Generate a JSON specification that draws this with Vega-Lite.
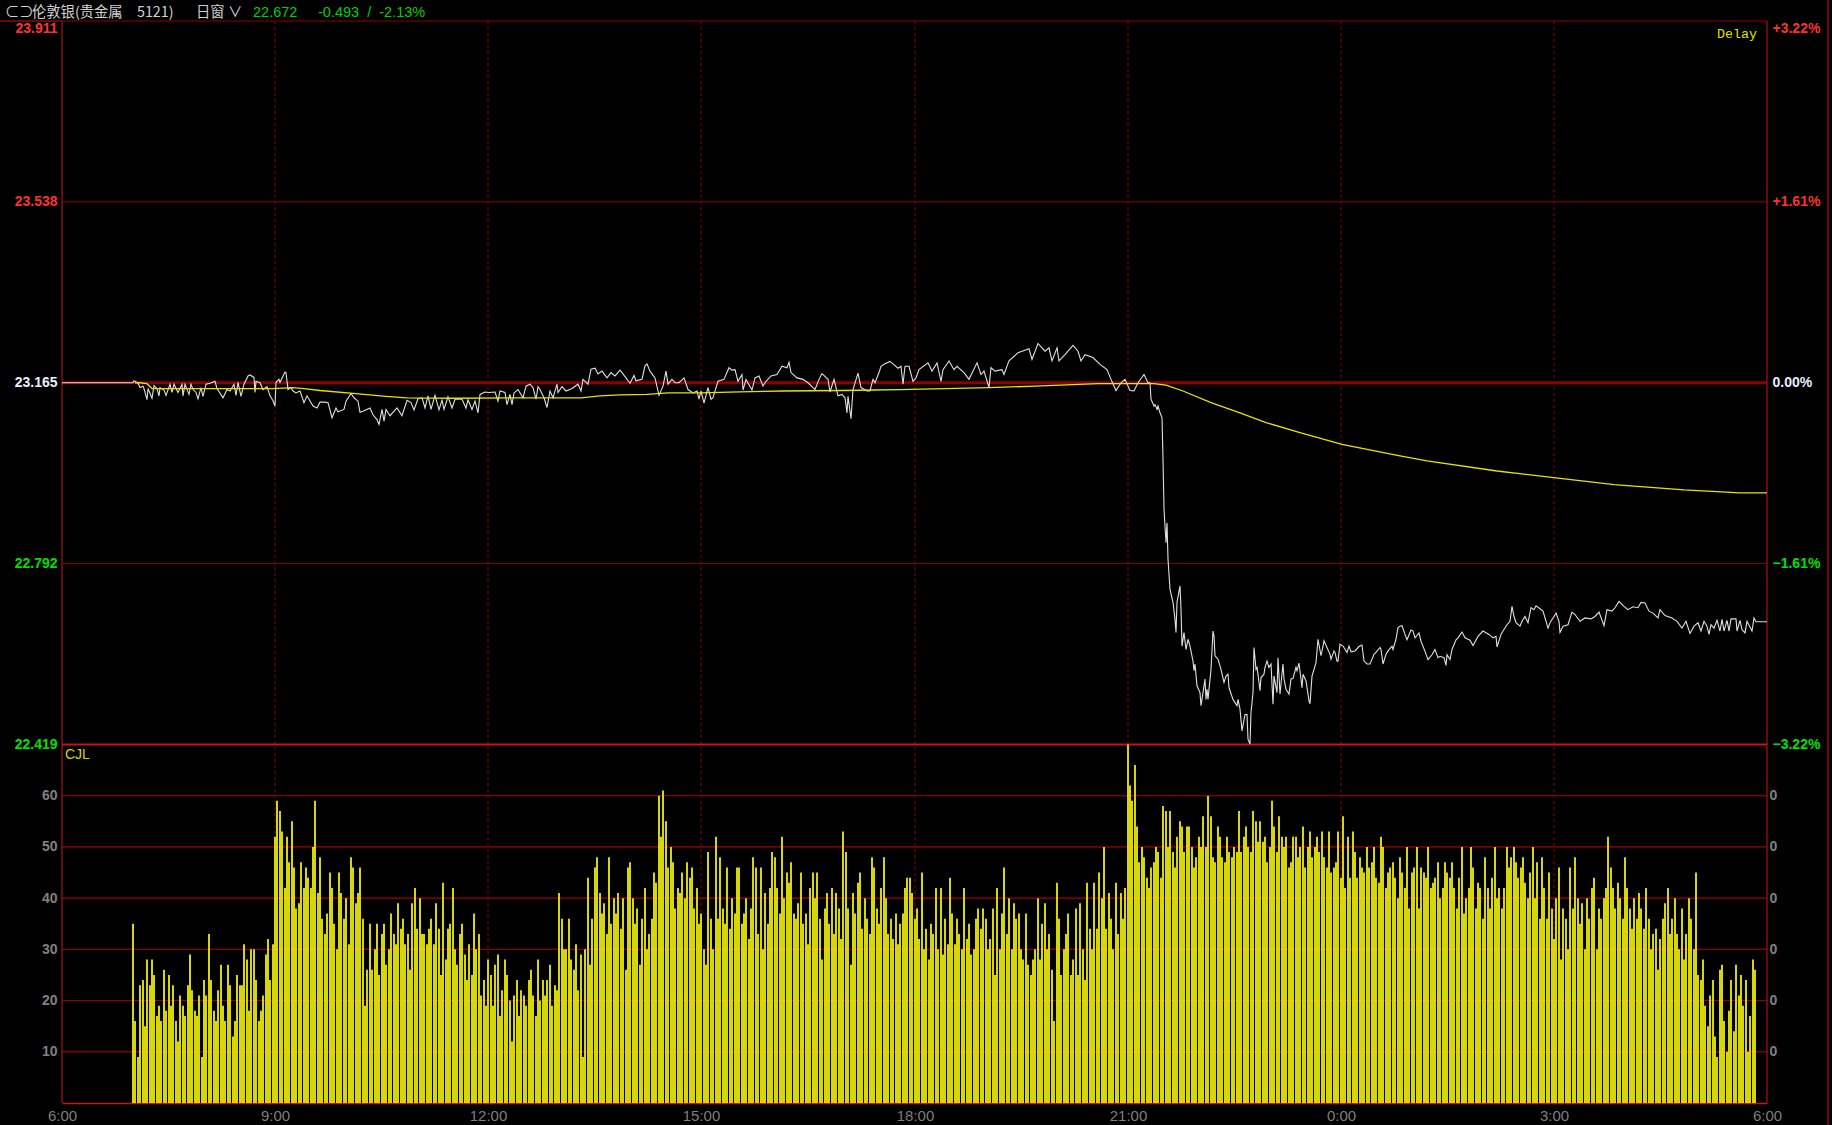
{"$schema":"https://vega.github.io/schema/vega-lite/v6.json","width":1705,"height":1082,"autosize":{"type":"none"},"padding":{"left":62,"top":21,"right":65,"bottom":22},"background":"#000000","config":{"view":{"stroke":null},"axis":{"grid":false,"ticks":false,"domain":false,"title":null}},"resolve":{"scale":{"y":"independent"},"axis":{"y":"independent"}},"layer":[
{"data":{"values":[{"m":180},{"m":360},{"m":540},{"m":720},{"m":900},{"m":1080},{"m":1260}]},"mark":{"type":"rule","stroke":"#8c0000","strokeDash":[3,3],"strokeWidth":1},"encoding":{"x":{"field":"m","type":"quantitative","scale":{"domain":[0,1440],"range":[0,1705],"round":true,"padding":0},"axis":{"values":[0,180,360,540,720,900,1080,1260,1440],"labelExpr":"floor((6+datum.value/60)%24)+':00'","labelFont":"Liberation Sans","labelFontSize":15,"labelColor":"#7f7f7f","labelPadding":5,"domain":true,"domainColor":"#c81414","domainWidth":1.5,"orient":"bottom","labelFlush":false,"labelOverlap":false}}}},
{"data":{"values":[{"v":10},{"v":20},{"v":30},{"v":40},{"v":50},{"v":60}]},"mark":{"type":"rule","stroke":"#8c0000","strokeWidth":1},"encoding":{"y":{"field":"v","type":"quantitative","scale":{"domain":[0,70],"range":[1082,723.5]},"axis":{"orient":"left","values":[10,20,30,40,50,60],"labelFont":"Liberation Sans","labelFontWeight":"bold","labelFontSize":14,"labelColor":"#808080","labelPadding":5}}}},
{"data":{"values":[{"v":10},{"v":20},{"v":30},{"v":40},{"v":50},{"v":60}]},"mark":{"type":"rule","stroke":"#8c0000","strokeWidth":1},"encoding":{"y":{"field":"v","type":"quantitative","scale":{"domain":[0,70],"range":[1082,723.5]},"axis":{"orient":"right","values":[10,20,30,40,50,60],"labelExpr":"'0'","labelFont":"Liberation Sans","labelFontWeight":"bold","labelFontSize":14,"labelColor":"#808080","labelPadding":2}}}},
{"data":{"values":[{"p":23.911},{"p":23.538},{"p":23.165},{"p":22.792},{"p":22.419}]},"mark":{"type":"rule"},"encoding":{"y":{"field":"p","type":"quantitative","scale":{"domain":[22.419,23.911],"range":[723.5,0]},"axis":{"orient":"left","values":[23.911,23.538,23.165,22.792,22.419],"format":".3f","labelFont":"Liberation Sans","labelFontWeight":"bold","labelFontSize":14,"labelPadding":5,"labelColor":{"expr":"datum.value>23.2?'#ff3232':datum.value<23.1?'#00e000':'#e6f0ff'"},"labelOffset":{"expr":"datum.value>23.9?7:0"},"labelFlush":false,"labelOverlap":false}},"stroke":{"condition":{"test":"datum.p==22.419","value":"#c81414"},"value":"#900000"},"strokeWidth":{"condition":[{"test":"datum.p==23.165","value":3},{"test":"datum.p==22.419","value":2}],"value":1}}},
{"data":{"values":[{"q":3.22},{"q":1.61},{"q":0},{"q":-1.61},{"q":-3.22}]},"mark":{"type":"rule","strokeOpacity":0},"encoding":{"y":{"field":"q","type":"quantitative","scale":{"domain":[-3.22,3.22],"range":[723.5,0]},"axis":{"orient":"right","values":[3.22,1.61,0,-1.61,-3.22],"labelExpr":"(datum.value>0?'+':'')+format(datum.value,'.2f')+'%'","labelFont":"Liberation Sans","labelFontWeight":"bold","labelFontSize":14,"labelPadding":5,"labelColor":{"expr":"datum.value>0.1?'#ff3232':datum.value<-0.1?'#00e000':'#e6f0ff'"},"labelOffset":{"expr":"datum.value>3?7:0"},"labelFlush":false,"labelOverlap":false}}}},
{"data":{"values":[{"m":0},{"m":1440}]},"mark":{"type":"rule","stroke":"#c81414","strokeWidth":1},"encoding":{"x":{"field":"m","type":"quantitative","scale":{"domain":[0,1440],"range":[0,1705],"round":true,"padding":0}}}},
{"data":{"values":[{"m":1491.6,"p":23.96,"p2":21.6},{"m":-52.4,"p":23.911,"p2":23.911,"m2":0}]},"mark":{"type":"rule","stroke":"#c81414","strokeWidth":1,"clip":false},"encoding":{"x":{"field":"m","type":"quantitative","scale":{"domain":[0,1440],"range":[0,1705],"round":true,"padding":0}},"x2":{"field":"m2"},"y":{"field":"p","type":"quantitative","scale":{"domain":[22.419,23.911],"range":[723.5,0]},"axis":null},"y2":{"field":"p2"}}},
{"data":{"values":[
{"m":60,"v":35},{"m":62,"v":16},{"m":64,"v":9},{"m":66,"v":23},{"m":68,"v":24},{"m":70,"v":15},{"m":72,"v":28},{"m":74,"v":23},{"m":76,"v":28},{"m":78,"v":25},{"m":80,"v":17},{"m":82,"v":19},{"m":84,"v":16},{"m":86,"v":26},{"m":88,"v":18},{"m":90,"v":25},{"m":92,"v":19},{"m":94,"v":23},{"m":96,"v":16},{"m":98,"v":12},{"m":100,"v":21},{"m":102,"v":19},{"m":104,"v":17},{"m":106,"v":23},{"m":108,"v":29},{"m":110,"v":22},{"m":112,"v":18},{"m":114,"v":17},{"m":116,"v":21},{"m":118,"v":9},{"m":120,"v":24},{"m":122,"v":21},{"m":124,"v":33},{"m":126,"v":24},{"m":128,"v":18},{"m":130,"v":16},{"m":132,"v":22},{"m":134,"v":27},{"m":136,"v":19},{"m":138,"v":16},{"m":140,"v":27},{"m":142,"v":23},{"m":144,"v":13},{"m":146,"v":16},{"m":148,"v":25},{"m":150,"v":23},{"m":152,"v":23},{"m":154,"v":31},{"m":156,"v":28},{"m":158,"v":18},{"m":160,"v":30},{"m":162,"v":30},{"m":164,"v":24},{"m":166,"v":16},{"m":168,"v":18},{"m":170,"v":21},{"m":172,"v":29},{"m":174,"v":32},{"m":176,"v":24},{"m":178,"v":31},
{"m":180,"v":52},{"m":182,"v":59},{"m":184,"v":57},{"m":186,"v":53},{"m":188,"v":42},{"m":190,"v":52},{"m":192,"v":47},{"m":194,"v":55},{"m":196,"v":46},{"m":198,"v":38},{"m":200,"v":39},{"m":202,"v":47},{"m":204,"v":42},{"m":206,"v":46},{"m":208,"v":44},{"m":210,"v":42},{"m":212,"v":50},{"m":214,"v":59},{"m":216,"v":41},{"m":218,"v":48},{"m":220,"v":36},{"m":222,"v":33},{"m":224,"v":37},{"m":226,"v":45},{"m":228,"v":42},{"m":230,"v":35},{"m":232,"v":30},{"m":234,"v":45},{"m":236,"v":41},{"m":238,"v":36},{"m":240,"v":40},{"m":242,"v":31},{"m":244,"v":48},{"m":246,"v":46},{"m":248,"v":39},{"m":250,"v":41},{"m":252,"v":46},{"m":254,"v":36},
{"m":256,"v":19},{"m":258,"v":26},{"m":260,"v":35},{"m":262,"v":26},{"m":264,"v":30},{"m":266,"v":35},{"m":268,"v":25},{"m":270,"v":33},{"m":272,"v":35},{"m":274,"v":27},{"m":276,"v":30},{"m":278,"v":37},{"m":280,"v":33},{"m":282,"v":31},{"m":284,"v":39},{"m":286,"v":34},{"m":288,"v":36},{"m":290,"v":31},{"m":292,"v":33},{"m":294,"v":26},{"m":296,"v":39},{"m":298,"v":42},{"m":300,"v":34},{"m":302,"v":40},{"m":304,"v":33},{"m":306,"v":33},{"m":308,"v":31},{"m":310,"v":34},{"m":312,"v":36},{"m":314,"v":31},{"m":316,"v":39},{"m":318,"v":34},{"m":320,"v":25},{"m":322,"v":43},{"m":324,"v":28},{"m":326,"v":34},{"m":328,"v":35},{"m":330,"v":42},{"m":332,"v":30},{"m":334,"v":27},{"m":336,"v":33},{"m":338,"v":35},{"m":340,"v":29},{"m":342,"v":24},{"m":344,"v":31},{"m":346,"v":25},{"m":348,"v":37},{"m":350,"v":30},{"m":352,"v":33},{"m":354,"v":21},{"m":356,"v":24},{"m":358,"v":19},
{"m":360,"v":28},{"m":362,"v":25},{"m":364,"v":19},{"m":366,"v":27},{"m":368,"v":29},{"m":370,"v":17},{"m":372,"v":22},{"m":374,"v":28},{"m":376,"v":25},{"m":378,"v":20},{"m":380,"v":12},{"m":382,"v":21},{"m":384,"v":24},{"m":386,"v":17},{"m":388,"v":22},{"m":390,"v":21},{"m":392,"v":19},{"m":394,"v":24},{"m":396,"v":26},{"m":398,"v":21},{"m":400,"v":17},{"m":402,"v":28},{"m":404,"v":20},{"m":406,"v":24},{"m":408,"v":21},{"m":410,"v":24},{"m":412,"v":27},{"m":414,"v":19},{"m":416,"v":23},{"m":418,"v":22},
{"m":420,"v":41},{"m":422,"v":36},{"m":424,"v":30},{"m":426,"v":30},{"m":428,"v":36},{"m":430,"v":28},{"m":432,"v":26},{"m":434,"v":31},{"m":436,"v":22},{"m":438,"v":29},{"m":440,"v":9},{"m":442,"v":30},{"m":444,"v":44},{"m":446,"v":27},{"m":448,"v":36},{"m":450,"v":46},{"m":452,"v":48},{"m":454,"v":41},{"m":456,"v":37},{"m":458,"v":39},{"m":460,"v":33},{"m":462,"v":48},{"m":464,"v":35},{"m":466,"v":40},{"m":468,"v":37},{"m":470,"v":41},{"m":472,"v":34},{"m":474,"v":40},{"m":476,"v":26},{"m":478,"v":46},{"m":480,"v":47},{"m":482,"v":40},{"m":484,"v":35},{"m":486,"v":38},{"m":488,"v":27},{"m":490,"v":36},{"m":492,"v":42},{"m":494,"v":30},{"m":496,"v":33},{"m":498,"v":36},{"m":500,"v":45},{"m":502,"v":43},{"m":504,"v":60},{"m":506,"v":52},{"m":508,"v":61},{"m":510,"v":55},{"m":512,"v":46},{"m":514,"v":50},{"m":516,"v":47},{"m":518,"v":38},{"m":520,"v":42},{"m":522,"v":41},{"m":524,"v":45},{"m":526,"v":40},{"m":528,"v":47},{"m":530,"v":44},{"m":532,"v":46},{"m":534,"v":38},{"m":536,"v":42},{"m":538,"v":35},{"m":540,"v":37},{"m":542,"v":30},{"m":544,"v":27},{"m":546,"v":49},{"m":548,"v":36},{"m":550,"v":30},{"m":552,"v":52},{"m":554,"v":36},{"m":556,"v":48},{"m":558,"v":38},{"m":560,"v":35},{"m":562,"v":46},{"m":564,"v":34},{"m":566,"v":40},{"m":568,"v":37},{"m":570,"v":46},{"m":572,"v":46},{"m":574,"v":35},{"m":576,"v":37},{"m":578,"v":40},{"m":580,"v":32},{"m":582,"v":38},{"m":584,"v":48},{"m":586,"v":46},{"m":588,"v":33},{"m":590,"v":46},{"m":592,"v":30},{"m":594,"v":41},{"m":596,"v":35},{"m":598,"v":42},{"m":600,"v":49},{"m":602,"v":48},{"m":604,"v":42},{"m":606,"v":37},{"m":608,"v":52},{"m":610,"v":40},{"m":612,"v":45},{"m":614,"v":43},{"m":616,"v":47},{"m":618,"v":37},{"m":620,"v":36},{"m":622,"v":39},{"m":624,"v":45},{"m":626,"v":35},{"m":628,"v":37},{"m":630,"v":31},{"m":632,"v":42},{"m":634,"v":45},{"m":636,"v":40},{"m":638,"v":45},{"m":640,"v":36},{"m":642,"v":28},{"m":644,"v":38},{"m":646,"v":41},{"m":648,"v":35},{"m":650,"v":42},{"m":652,"v":33},{"m":654,"v":41},{"m":656,"v":38},{"m":658,"v":32},{"m":660,"v":53},{"m":662,"v":49},{"m":664,"v":38},{"m":666,"v":27},{"m":668,"v":41},{"m":670,"v":37},{"m":672,"v":43},{"m":674,"v":45},{"m":676,"v":34},{"m":678,"v":40},{"m":680,"v":36},{"m":682,"v":33},{"m":684,"v":48},{"m":686,"v":46},{"m":688,"v":38},{"m":690,"v":35},{"m":692,"v":42},{"m":694,"v":48},{"m":696,"v":40},{"m":698,"v":33},{"m":700,"v":36},{"m":702,"v":32},{"m":704,"v":37},{"m":706,"v":31},{"m":708,"v":35},{"m":710,"v":37},{"m":712,"v":42},{"m":714,"v":44},{"m":716,"v":44},{"m":718,"v":41},
{"m":720,"v":36},{"m":722,"v":38},{"m":724,"v":32},{"m":726,"v":45},{"m":728,"v":30},{"m":730,"v":34},{"m":732,"v":28},{"m":734,"v":35},{"m":736,"v":33},{"m":738,"v":42},{"m":740,"v":30},{"m":742,"v":42},{"m":744,"v":29},{"m":746,"v":36},{"m":748,"v":31},{"m":750,"v":44},{"m":752,"v":37},{"m":754,"v":31},{"m":756,"v":36},{"m":758,"v":33},{"m":760,"v":30},{"m":762,"v":42},{"m":764,"v":32},{"m":766,"v":35},{"m":768,"v":29},{"m":770,"v":30},{"m":772,"v":36},{"m":774,"v":38},{"m":776,"v":34},{"m":778,"v":38},{"m":780,"v":36},{"m":782,"v":30},{"m":784,"v":32},{"m":786,"v":38},{"m":788,"v":25},{"m":790,"v":42},
{"m":792,"v":30},{"m":794,"v":37},{"m":796,"v":46},{"m":798,"v":33},{"m":800,"v":40},{"m":802,"v":30},{"m":804,"v":39},{"m":806,"v":36},{"m":808,"v":37},{"m":810,"v":30},{"m":812,"v":28},{"m":814,"v":37},{"m":816,"v":27},{"m":818,"v":25},{"m":820,"v":28},{"m":822,"v":30},{"m":824,"v":40},{"m":826,"v":28},{"m":828,"v":35},{"m":830,"v":39},{"m":832,"v":30},{"m":834,"v":33},{"m":836,"v":26},{"m":838,"v":16},{"m":840,"v":43},{"m":842,"v":36},{"m":844,"v":25},{"m":846,"v":30},{"m":848,"v":33},{"m":850,"v":37},{"m":852,"v":25},{"m":854,"v":28},{"m":856,"v":38},{"m":858,"v":25},{"m":860,"v":39},{"m":862,"v":30},{"m":864,"v":24},{"m":866,"v":43},{"m":868,"v":34},{"m":870,"v":30},{"m":872,"v":43},{"m":874,"v":34},{"m":876,"v":45},{"m":878,"v":40},{"m":880,"v":50},{"m":882,"v":34},{"m":884,"v":41},{"m":886,"v":36},{"m":888,"v":30},{"m":890,"v":43},{"m":892,"v":33},{"m":894,"v":41},{"m":896,"v":36},{"m":898,"v":42},
{"m":900,"v":70},{"m":902,"v":62},{"m":904,"v":59},{"m":906,"v":66},{"m":908,"v":54},{"m":910,"v":47},{"m":912,"v":50},{"m":914,"v":48},{"m":916,"v":44},{"m":918,"v":42},{"m":920,"v":46},{"m":922,"v":47},{"m":924,"v":50},{"m":926,"v":49},{"m":928,"v":44},{"m":930,"v":58},{"m":932,"v":57},{"m":934,"v":50},{"m":936,"v":57},{"m":938,"v":49},{"m":940,"v":46},{"m":942,"v":52},{"m":944,"v":55},{"m":946,"v":54},{"m":948,"v":49},{"m":950,"v":54},{"m":952,"v":54},{"m":954,"v":50},{"m":956,"v":46},{"m":958,"v":48},{"m":960,"v":52},{"m":962,"v":50},{"m":964,"v":56},{"m":966,"v":50},{"m":968,"v":60},{"m":970,"v":56},{"m":972,"v":48},{"m":974,"v":47},{"m":976,"v":54},{"m":978,"v":52},{"m":980,"v":48},{"m":982,"v":47},{"m":984,"v":52},{"m":986,"v":49},{"m":988,"v":48},{"m":990,"v":50},{"m":992,"v":49},{"m":994,"v":57},{"m":996,"v":49},{"m":998,"v":52},{"m":1000,"v":54},{"m":1002,"v":50},{"m":1004,"v":49},{"m":1006,"v":57},{"m":1008,"v":55},{"m":1010,"v":51},{"m":1012,"v":55},{"m":1014,"v":51},{"m":1016,"v":52},{"m":1018,"v":47},{"m":1020,"v":50},{"m":1022,"v":59},{"m":1024,"v":54},{"m":1026,"v":49},{"m":1028,"v":56},{"m":1030,"v":52},{"m":1032,"v":50},{"m":1034,"v":52},{"m":1036,"v":46},{"m":1038,"v":47},{"m":1040,"v":52},{"m":1042,"v":52},{"m":1044,"v":48},{"m":1046,"v":50},{"m":1048,"v":54},{"m":1050,"v":46},{"m":1052,"v":50},{"m":1054,"v":53},{"m":1056,"v":48},{"m":1058,"v":50},{"m":1060,"v":52},{"m":1062,"v":49},{"m":1064,"v":53},{"m":1066,"v":48},{"m":1068,"v":46},{"m":1070,"v":53},{"m":1072,"v":45},{"m":1074,"v":46},{"m":1076,"v":47},{"m":1078,"v":53},
{"m":1080,"v":44},{"m":1082,"v":56},{"m":1084,"v":42},{"m":1086,"v":52},{"m":1088,"v":44},{"m":1090,"v":53},{"m":1092,"v":49},{"m":1094,"v":44},{"m":1096,"v":48},{"m":1098,"v":46},{"m":1100,"v":45},{"m":1102,"v":50},{"m":1104,"v":46},{"m":1106,"v":47},{"m":1108,"v":50},{"m":1110,"v":44},{"m":1112,"v":43},{"m":1114,"v":52},{"m":1116,"v":50},{"m":1118,"v":42},{"m":1120,"v":45},{"m":1122,"v":46},{"m":1124,"v":47},{"m":1126,"v":44},{"m":1128,"v":40},{"m":1130,"v":48},{"m":1132,"v":45},{"m":1134,"v":42},{"m":1136,"v":50},{"m":1138,"v":38},{"m":1140,"v":45},{"m":1142,"v":46},{"m":1144,"v":50},{"m":1146,"v":38},{"m":1148,"v":46},{"m":1150,"v":45},{"m":1152,"v":44},{"m":1154,"v":50},{"m":1156,"v":42},{"m":1158,"v":43},{"m":1160,"v":44},{"m":1162,"v":47},{"m":1164,"v":40},{"m":1166,"v":42},{"m":1168,"v":47},{"m":1170,"v":45},{"m":1172,"v":44},{"m":1174,"v":47},{"m":1176,"v":42},{"m":1178,"v":38},{"m":1180,"v":44},{"m":1182,"v":50},{"m":1184,"v":37},{"m":1186,"v":40},{"m":1188,"v":42},{"m":1190,"v":50},{"m":1192,"v":46},{"m":1194,"v":38},{"m":1196,"v":43},{"m":1198,"v":42},{"m":1200,"v":36},{"m":1202,"v":48},{"m":1204,"v":42},{"m":1206,"v":38},{"m":1208,"v":44},{"m":1210,"v":50},{"m":1212,"v":40},{"m":1214,"v":42},{"m":1216,"v":38},{"m":1218,"v":42},{"m":1220,"v":50},{"m":1222,"v":46},{"m":1224,"v":48},{"m":1226,"v":50},{"m":1228,"v":47},
{"m":1230,"v":44},{"m":1232,"v":46},{"m":1234,"v":48},{"m":1236,"v":43},{"m":1238,"v":40},{"m":1240,"v":45},{"m":1242,"v":50},{"m":1244,"v":40},{"m":1246,"v":47},{"m":1248,"v":36},{"m":1250,"v":48},{"m":1252,"v":42},{"m":1254,"v":36},{"m":1256,"v":45},{"m":1258,"v":38},{"m":1260,"v":32},{"m":1262,"v":40},{"m":1264,"v":46},{"m":1266,"v":28},{"m":1268,"v":38},{"m":1270,"v":36},{"m":1272,"v":30},{"m":1274,"v":46},{"m":1276,"v":38},{"m":1278,"v":48},{"m":1280,"v":40},{"m":1282,"v":35},{"m":1284,"v":39},{"m":1286,"v":30},{"m":1288,"v":40},{"m":1290,"v":36},{"m":1292,"v":42},{"m":1294,"v":44},{"m":1296,"v":30},{"m":1298,"v":38},{"m":1300,"v":36},{"m":1302,"v":40},{"m":1304,"v":42},{"m":1306,"v":52},{"m":1308,"v":46},{"m":1310,"v":42},{"m":1312,"v":38},{"m":1314,"v":43},{"m":1316,"v":40},{"m":1318,"v":36},{"m":1320,"v":48},{"m":1322,"v":42},{"m":1324,"v":38},{"m":1326,"v":34},{"m":1328,"v":40},{"m":1330,"v":36},{"m":1332,"v":41},{"m":1334,"v":38},{"m":1336,"v":34},{"m":1338,"v":42},{"m":1340,"v":36},{"m":1342,"v":30},{"m":1344,"v":33},{"m":1346,"v":34},{"m":1348,"v":26},{"m":1350,"v":32},{"m":1352,"v":36},{"m":1354,"v":39},{"m":1356,"v":42},{"m":1358,"v":33},{"m":1360,"v":36},{"m":1362,"v":40},{"m":1364,"v":33},{"m":1366,"v":30},{"m":1368,"v":38},{"m":1370,"v":28},{"m":1372,"v":33},{"m":1374,"v":40},{"m":1376,"v":36},{"m":1378,"v":30},{"m":1380,"v":45},{"m":1382,"v":25},{"m":1384,"v":24},{"m":1386,"v":28},{"m":1388,"v":19},{"m":1390,"v":15},{"m":1392,"v":21},{"m":1394,"v":24},{"m":1396,"v":13},{"m":1398,"v":9},{"m":1400,"v":26},{"m":1402,"v":27},{"m":1404,"v":16},{"m":1406,"v":10},{"m":1408,"v":18},{"m":1410,"v":24},{"m":1412,"v":14},{"m":1414,"v":27},{"m":1416,"v":21},{"m":1418,"v":25},{"m":1420,"v":19},{"m":1422,"v":24},{"m":1424,"v":10},{"m":1426,"v":17},{"m":1428,"v":28},{"m":1430,"v":26}
]},"mark":{"type":"bar","size":2,"color":"#e6e60a","opacity":0.93,"orient":"vertical"},"encoding":{"x":{"field":"m","type":"quantitative","scale":{"domain":[0,1440],"range":[0,1705],"round":true,"padding":0}},"y":{"field":"v","type":"quantitative","stack":null,"scale":{"domain":[0,70],"range":[1082,723.5]},"axis":null}}},
{"data":{"values":[
{"m":0,"p":23.165},{"m":60,"p":23.165},{"m":61,"p":23.169},{"m":62,"p":23.168},{"m":64,"p":23.164},{"m":66,"p":23.155},{"m":68,"p":23.158},{"m":69,"p":23.153},{"m":72,"p":23.13},{"m":73,"p":23.153},{"m":76,"p":23.133},{"m":78,"p":23.159},{"m":80,"p":23.153},{"m":82,"p":23.138},{"m":83,"p":23.155},{"m":86,"p":23.15},{"m":88,"p":23.139},{"m":91,"p":23.162},{"m":93,"p":23.145},{"m":95,"p":23.162},{"m":98,"p":23.145},{"m":101,"p":23.162},{"m":102,"p":23.138},{"m":104,"p":23.162},{"m":107,"p":23.141},{"m":109,"p":23.162},{"m":111,"p":23.151},{"m":113,"p":23.145},{"m":115,"p":23.132},{"m":117,"p":23.155},{"m":119,"p":23.137},{"m":122,"p":23.162},{"m":125,"p":23.164},{"m":129,"p":23.168},{"m":131,"p":23.153},{"m":136,"p":23.134},{"m":139,"p":23.151},{"m":142,"p":23.148},{"m":145,"p":23.162},{"m":147,"p":23.139},{"m":149,"p":23.166},{"m":151,"p":23.137},{"m":154,"p":23.162},{"m":157,"p":23.179},{"m":159,"p":23.181},{"m":162,"p":23.176},{"m":163,"p":23.145},{"m":164,"p":23.168},{"m":167,"p":23.165},{"m":170,"p":23.151},{"m":173,"p":23.157},{"m":176,"p":23.138},{"m":178,"p":23.128},{"m":180,"p":23.117},{"m":181,"p":23.166},{"m":183,"p":23.172},{"m":184,"p":23.166},{"m":188,"p":23.187},{"m":189,"p":23.186},{"m":191,"p":23.151},{"m":193,"p":23.155},{"m":195,"p":23.148},{"m":198,"p":23.144},{"m":201,"p":23.148},{"m":204,"p":23.124},{"m":207,"p":23.138},{"m":209,"p":23.131},{"m":212,"p":23.117},{"m":215,"p":23.113},{"m":218,"p":23.125},{"m":222,"p":23.125},{"m":225,"p":23.124},{"m":228,"p":23.093},{"m":231,"p":23.113},{"m":233,"p":23.105},{"m":238,"p":23.11},{"m":240,"p":23.127},{"m":244,"p":23.143},{"m":247,"p":23.134},{"m":250,"p":23.127},{"m":252,"p":23.104},{"m":254,"p":23.106},{"m":260,"p":23.113},{"m":263,"p":23.099},{"m":266,"p":23.089},{"m":268,"p":23.079},{"m":270,"p":23.11},{"m":272,"p":23.086},{"m":274,"p":23.11},{"m":277,"p":23.097},{"m":283,"p":23.113},{"m":287,"p":23.097},{"m":291,"p":23.129},{"m":295,"p":23.124},{"m":297,"p":23.109},{"m":301,"p":23.132},{"m":304,"p":23.134},{"m":307,"p":23.113},{"m":309,"p":23.138},{"m":312,"p":23.11},{"m":315,"p":23.139},{"m":318,"p":23.109},{"m":321,"p":23.129},{"m":323,"p":23.11},{"m":326,"p":23.136},{"m":329,"p":23.113},{"m":332,"p":23.131},{"m":338,"p":23.131},{"m":341,"p":23.113},{"m":343,"p":23.13},{"m":346,"p":23.11},{"m":349,"p":23.127},{"m":351,"p":23.103},{"m":353,"p":23.141},{"m":357,"p":23.146},{"m":361,"p":23.145},{"m":366,"p":23.146},{"m":368,"p":23.127},
{"m":370,"p":23.148},{"m":374,"p":23.145},{"m":376,"p":23.12},{"m":378,"p":23.141},{"m":380,"p":23.12},{"m":382,"p":23.144},{"m":385,"p":23.151},{"m":389,"p":23.134},{"m":392,"p":23.158},{"m":395,"p":23.162},{"m":398,"p":23.155},{"m":400,"p":23.131},{"m":402,"p":23.157},{"m":404,"p":23.151},{"m":407,"p":23.134},{"m":410,"p":23.114},{"m":412,"p":23.148},{"m":415,"p":23.134},{"m":418,"p":23.162},{"m":419,"p":23.145},{"m":422,"p":23.157},{"m":426,"p":23.148},{"m":431,"p":23.153},{"m":436,"p":23.162},{"m":438,"p":23.148},{"m":440,"p":23.172},{"m":444,"p":23.162},{"m":447,"p":23.193},{"m":450,"p":23.195},{"m":453,"p":23.183},{"m":456,"p":23.189},{"m":460,"p":23.175},{"m":464,"p":23.186},{"m":467,"p":23.179},{"m":471,"p":23.191},{"m":476,"p":23.175},{"m":480,"p":23.164},{"m":483,"p":23.18},{"m":485,"p":23.169},{"m":490,"p":23.172},{"m":492,"p":23.2},{"m":494,"p":23.204},{"m":497,"p":23.189},{"m":501,"p":23.175},{"m":504,"p":23.139},{"m":508,"p":23.158},{"m":510,"p":23.189},{"m":512,"p":23.162},{"m":515,"p":23.172},{"m":518,"p":23.165},{"m":521,"p":23.165},{"m":525,"p":23.175},{"m":529,"p":23.151},{"m":533,"p":23.144},{"m":536,"p":23.148},{"m":538,"p":23.131},{"m":540,"p":23.148},{"m":542,"p":23.123},{"m":546,"p":23.155},{"m":548,"p":23.131},{"m":550,"p":23.134},{"m":554,"p":23.168},{"m":559,"p":23.172},{"m":563,"p":23.196},{"m":566,"p":23.191},{"m":568,"p":23.192},{"m":571,"p":23.168},{"m":574,"p":23.182},{"m":575,"p":23.15},{"m":578,"p":23.172},{"m":583,"p":23.15},{"m":585,"p":23.175},{"m":589,"p":23.179},{"m":592,"p":23.158},{"m":595,"p":23.168},{"m":599,"p":23.179},{"m":604,"p":23.182},{"m":608,"p":23.199},{"m":612,"p":23.196},{"m":614,"p":23.207},{"m":616,"p":23.186},{"m":621,"p":23.175},{"m":626,"p":23.172},{"m":630,"p":23.165},{"m":636,"p":23.151},{"m":639,"p":23.172},{"m":642,"p":23.184},{"m":647,"p":23.172},{"m":649,"p":23.146},{"m":652,"p":23.172},{"m":655,"p":23.138},{"m":659,"p":23.141},{"m":661,"p":23.134},{"m":663,"p":23.103},{"m":664,"p":23.137},{"m":666,"p":23.091},{"m":668,"p":23.151},{"m":672,"p":23.185},{"m":675,"p":23.155},{"m":680,"p":23.148},{"m":682,"p":23.148},{"m":685,"p":23.172},{"m":687,"p":23.165},{"m":690,"p":23.186},{"m":692,"p":23.199},{"m":695,"p":23.204},{"m":699,"p":23.209},{"m":702,"p":23.204},{"m":706,"p":23.195},
{"m":709,"p":23.199},{"m":710,"p":23.162},{"m":712,"p":23.199},{"m":715,"p":23.199},{"m":719,"p":23.168},{"m":721,"p":23.175},{"m":724,"p":23.192},{"m":731,"p":23.206},{"m":735,"p":23.189},{"m":739,"p":23.206},{"m":742,"p":23.168},{"m":744,"p":23.192},{"m":749,"p":23.21},{"m":753,"p":23.192},{"m":756,"p":23.199},{"m":762,"p":23.186},{"m":766,"p":23.172},{"m":773,"p":23.206},{"m":776,"p":23.182},{"m":779,"p":23.189},{"m":783,"p":23.155},{"m":785,"p":23.196},{"m":788,"p":23.189},{"m":794,"p":23.192},{"m":796,"p":23.182},{"m":800,"p":23.21},{"m":807,"p":23.227},{"m":817,"p":23.235},{"m":819,"p":23.213},{"m":824,"p":23.246},{"m":830,"p":23.23},{"m":834,"p":23.237},{"m":836,"p":23.21},{"m":840,"p":23.237},{"m":842,"p":23.21},{"m":847,"p":23.223},{"m":854,"p":23.242},{"m":858,"p":23.23},{"m":861,"p":23.21},{"m":864,"p":23.223},{"m":871,"p":23.217},{"m":877,"p":23.203},{"m":883,"p":23.192},{"m":886,"p":23.172},{"m":890,"p":23.149},{"m":894,"p":23.165},{"m":898,"p":23.172},{"m":902,"p":23.149},{"m":905,"p":23.148},{"m":909,"p":23.165},{"m":914,"p":23.182},{"m":917,"p":23.165},{"m":919,"p":23.165},{"m":920,"p":23.131},{"m":922,"p":23.117},{"m":923,"p":23.12},{"m":925,"p":23.11},{"m":926,"p":23.117},{"m":927,"p":23.103},{"m":929,"p":23.093},{"m":930,"p":23.007},{"m":931,"p":22.904},{"m":932,"p":22.835},{"m":933,"p":22.876},{"m":934,"p":22.801},{"m":936,"p":22.739},{"m":938,"p":22.712},{"m":940,"p":22.677},{"m":941,"p":22.65},{"m":942,"p":22.712},{"m":944,"p":22.746},{"m":945,"p":22.698},{"m":946,"p":22.622},{"m":948,"p":22.65},{"m":949,"p":22.615},{"m":951,"p":22.636},{"m":953,"p":22.622},{"m":955,"p":22.591},{"m":956,"p":22.571},{"m":957,"p":22.585},{"m":959,"p":22.54},{"m":961,"p":22.526},{"m":962,"p":22.499},{"m":964,"p":22.526},{"m":965,"p":22.554},{"m":966,"p":22.512},{"m":967,"p":22.533},{"m":968,"p":22.512},{"m":970,"p":22.574},{"m":972,"p":22.653},{"m":973,"p":22.643},{"m":974,"p":22.602},{"m":976,"p":22.595},{"m":979,"p":22.574},{"m":981,"p":22.547},{"m":983,"p":22.56},{"m":985,"p":22.564},{"m":986,"p":22.536},{"m":989,"p":22.512},{"m":992,"p":22.499},{"m":993,"p":22.512},{"m":995,"p":22.492},{"m":997,"p":22.447},{"m":999,"p":22.481},{"m":1001,"p":22.481},{"m":1002,"p":22.43},{"m":1003,"p":22.42},{"m":1004,"p":22.485},{"m":1006,"p":22.526},{"m":1007,"p":22.619},{"m":1008,"p":22.574},{"m":1009,"p":22.578},{"m":1010,"p":22.564},{"m":1012,"p":22.53},{"m":1013,"p":22.557},{"m":1015,"p":22.564},{"m":1016,"p":22.578},{"m":1018,"p":22.591},{"m":1019,"p":22.578},{"m":1021,"p":22.585},{"m":1023,"p":22.502},{"m":1024,"p":22.56},{"m":1026,"p":22.526},{"m":1027,"p":22.598},{"m":1029,"p":22.523},{"m":1031,"p":22.585},{"m":1032,"p":22.554},{"m":1034,"p":22.533},{"m":1036,"p":22.523},{"m":1038,"p":22.554},{"m":1040,"p":22.555},{"m":1042,"p":22.578},{"m":1043,"p":22.571},{"m":1045,"p":22.587},{"m":1047,"p":22.536},{"m":1048,"p":22.564},{"m":1051,"p":22.55},{"m":1053,"p":22.509},{"m":1054,"p":22.503},{"m":1056,"p":22.56},{"m":1059,"p":22.588},{"m":1061,"p":22.636},{"m":1063,"p":22.602},{"m":1065,"p":22.622},{"m":1066,"p":22.633},{"m":1068,"p":22.619},{"m":1071,"p":22.605},{"m":1072,"p":22.595},{"m":1074,"p":22.612},{"m":1075,"p":22.609},{"m":1077,"p":22.591},{"m":1078,"p":22.591},{"m":1079,"p":22.626},{"m":1082,"p":22.622},{"m":1085,"p":22.609},{"m":1087,"p":22.622},{"m":1089,"p":22.61},{"m":1092,"p":22.612},{"m":1095,"p":22.621},{"m":1098,"p":22.624},{"m":1100,"p":22.591},{"m":1102,"p":22.585},{"m":1105,"p":22.585},{"m":1108,"p":22.605},{"m":1110,"p":22.609},{"m":1113,"p":22.619},{"m":1114,"p":22.615},{"m":1116,"p":22.585},{"m":1118,"p":22.605},{"m":1120,"p":22.612},{"m":1123,"p":22.622},{"m":1124,"p":22.615},{"m":1127,"p":22.636},{"m":1128,"p":22.66},
{"m":1130,"p":22.663},{"m":1132,"p":22.664},{"m":1134,"p":22.646},{"m":1136,"p":22.635},{"m":1139,"p":22.655},{"m":1141,"p":22.653},{"m":1143,"p":22.639},{"m":1146,"p":22.649},{"m":1148,"p":22.632},{"m":1151,"p":22.611},{"m":1154,"p":22.594},{"m":1157,"p":22.604},{"m":1160,"p":22.615},{"m":1162,"p":22.598},{"m":1164,"p":22.601},{"m":1167,"p":22.598},{"m":1169,"p":22.582},{"m":1170,"p":22.604},{"m":1172,"p":22.594},{"m":1174,"p":22.615},{"m":1177,"p":22.635},{"m":1179,"p":22.639},{"m":1182,"p":22.651},{"m":1185,"p":22.639},{"m":1189,"p":22.634},{"m":1192,"p":22.623},{"m":1196,"p":22.642},{"m":1200,"p":22.653},{"m":1205,"p":22.646},{"m":1209,"p":22.639},{"m":1211,"p":22.642},{"m":1212,"p":22.62},{"m":1215,"p":22.646},{"m":1217,"p":22.653},{"m":1220,"p":22.666},{"m":1223,"p":22.673},{"m":1225,"p":22.704},{"m":1226,"p":22.683},{"m":1228,"p":22.67},{"m":1231,"p":22.663},{"m":1233,"p":22.673},{"m":1236,"p":22.683},{"m":1238,"p":22.67},{"m":1241,"p":22.701},{"m":1243,"p":22.697},{"m":1245,"p":22.705},{"m":1248,"p":22.699},{"m":1251,"p":22.694},{"m":1255,"p":22.659},{"m":1257,"p":22.67},{"m":1260,"p":22.683},{"m":1262,"p":22.69},{"m":1264,"p":22.673},{"m":1265,"p":22.65},{"m":1268,"p":22.663},{"m":1272,"p":22.666},{"m":1275,"p":22.692},{"m":1278,"p":22.687},{"m":1282,"p":22.673},{"m":1286,"p":22.68},{"m":1291,"p":22.678},{"m":1295,"p":22.683},{"m":1298,"p":22.692},{"m":1302,"p":22.664},{"m":1305,"p":22.697},{"m":1309,"p":22.694},{"m":1312,"p":22.701},{"m":1315,"p":22.714},{"m":1319,"p":22.704},{"m":1323,"p":22.697},{"m":1327,"p":22.703},{"m":1331,"p":22.701},{"m":1334,"p":22.712},{"m":1337,"p":22.711},{"m":1340,"p":22.694},{"m":1344,"p":22.69},{"m":1348,"p":22.68},{"m":1350,"p":22.697},{"m":1354,"p":22.685},{"m":1360,"p":22.68},{"m":1364,"p":22.673},{"m":1368,"p":22.659},{"m":1372,"p":22.673},{"m":1375,"p":22.648},{"m":1378,"p":22.663},{"m":1382,"p":22.67},{"m":1384,"p":22.653},{"m":1387,"p":22.673},{"m":1389,"p":22.663},{"m":1391,"p":22.646},{"m":1393,"p":22.666},{"m":1395,"p":22.659},{"m":1398,"p":22.675},{"m":1400,"p":22.653},{"m":1402,"p":22.677},{"m":1404,"p":22.653},{"m":1406,"p":22.675},{"m":1408,"p":22.653},{"m":1410,"p":22.678},{"m":1414,"p":22.678},{"m":1415,"p":22.653},{"m":1417,"p":22.675},{"m":1419,"p":22.656},{"m":1421,"p":22.649},{"m":1423,"p":22.673},{"m":1427,"p":22.653},{"m":1429,"p":22.68},{"m":1431,"p":22.672},{"m":1440,"p":22.672}
]},"mark":{"type":"line","stroke":"#e0e0e0","strokeWidth":1.1},"encoding":{"x":{"field":"m","type":"quantitative","scale":{"domain":[0,1440],"range":[0,1705],"round":true,"padding":0}},"y":{"field":"p","type":"quantitative","scale":{"domain":[22.419,23.911],"range":[723.5,0]},"axis":null}}},
{"data":{"values":[{"m":62,"p":23.165},{"m":66,"p":23.165},{"m":72,"p":23.163},{"m":76,"p":23.153},{"m":114,"p":23.153},{"m":159,"p":23.153},{"m":178,"p":23.153},{"m":195,"p":23.155},{"m":204,"p":23.153},{"m":218,"p":23.149},{"m":246,"p":23.143},{"m":274,"p":23.137},{"m":291,"p":23.134},{"m":330,"p":23.133},{"m":384,"p":23.134},{"m":438,"p":23.134},{"m":454,"p":23.138},{"m":471,"p":23.14},{"m":494,"p":23.141},{"m":512,"p":23.144},{"m":539,"p":23.144},{"m":573,"p":23.146},{"m":609,"p":23.148},{"m":660,"p":23.149},{"m":685,"p":23.15},{"m":708,"p":23.151},{"m":783,"p":23.155},{"m":822,"p":23.158},{"m":875,"p":23.163},{"m":922,"p":23.163},{"m":932,"p":23.16},{"m":947,"p":23.148},{"m":970,"p":23.124},{"m":995,"p":23.103},{"m":1017,"p":23.083},{"m":1046,"p":23.062},{"m":1081,"p":23.038},{"m":1130,"p":23.014},{"m":1153,"p":23.004},{"m":1212,"p":22.983},{"m":1262,"p":22.969},{"m":1311,"p":22.955},{"m":1370,"p":22.944},{"m":1417,"p":22.938},{"m":1440,"p":22.938}]},"mark":{"type":"line","stroke":"#e4e400","strokeWidth":1.3},"encoding":{"x":{"field":"m","type":"quantitative","scale":{"domain":[0,1440],"range":[0,1705],"round":true,"padding":0}},"y":{"field":"p","type":"quantitative","scale":{"domain":[22.419,23.911],"range":[723.5,0]},"axis":null}}},
{"data":{"values":[{"m":-48.1,"p":23.927,"t":"⊂⊃"},{"m":-25.3,"p":23.927,"t":"伦敦银(贵金属"},{"m":63.5,"p":23.927,"t":"5121)"},{"m":113.2,"p":23.927,"t":"日窗"},{"m":140,"p":23.927,"t":"∨"}]},"mark":{"type":"text","font":"Noto Sans CJK SC","fontSize":14.3,"align":"left","baseline":"middle","clip":false,"color":"#d0d0d0"},"encoding":{"x":{"field":"m","type":"quantitative","scale":{"domain":[0,1440],"range":[0,1705],"round":true,"padding":0}},"y":{"field":"p","type":"quantitative","scale":{"domain":[22.419,23.911],"range":[723.5,0]},"axis":null},"text":{"field":"t"}}},
{"data":{"values":[{"m":161.3,"p":23.927,"t":"22.672"},{"m":216.2,"p":23.927,"t":"-0.493\u00a0 /\u00a0 -2.13%"}]},"mark":{"type":"text","font":"Liberation Sans","fontSize":14.5,"align":"left","baseline":"middle","clip":false,"color":"#00d000"},"encoding":{"x":{"field":"m","type":"quantitative","scale":{"domain":[0,1440],"range":[0,1705],"round":true,"padding":0}},"y":{"field":"p","type":"quantitative","scale":{"domain":[22.419,23.911],"range":[723.5,0]},"axis":null},"text":{"field":"t"}}},
{"data":{"values":[{"m":1397.8,"p":23.885,"t":"Delay"}]},"mark":{"type":"text","font":"Liberation Mono","fontSize":13.3,"align":"left","baseline":"middle","color":"#e0e000"},"encoding":{"x":{"field":"m","type":"quantitative","scale":{"domain":[0,1440],"range":[0,1705],"round":true,"padding":0}},"y":{"field":"p","type":"quantitative","scale":{"domain":[22.419,23.911],"range":[723.5,0]},"axis":null},"text":{"field":"t"}}},
{"data":{"values":[{"m":2.5,"p":22.398,"t":"CJL"}]},"mark":{"type":"text","font":"Liberation Sans","fontSize":14,"align":"left","baseline":"middle","color":"#d8d800"},"encoding":{"x":{"field":"m","type":"quantitative","scale":{"domain":[0,1440],"range":[0,1705],"round":true,"padding":0}},"y":{"field":"p","type":"quantitative","scale":{"domain":[22.419,23.911],"range":[723.5,0]},"axis":null},"text":{"field":"t"}}}
]}
